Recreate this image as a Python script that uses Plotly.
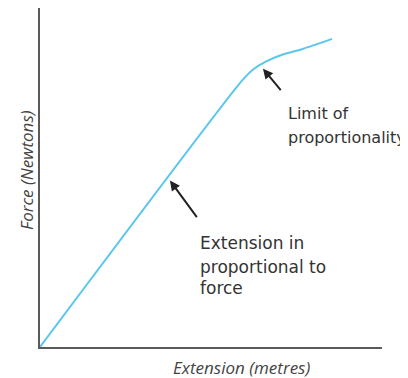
import plotly.graph_objects as go

# Curve data (arbitrary units)
extension = [0.0, 5.9, 6.25, 6.6, 7.1, 7.7, 8.54]
force = [0.0, 7.85, 8.2, 8.42, 8.63, 8.8, 9.09]

x_title = "Extension (metres)"
y_title = "Force (Newtons)"
label1_lines = ["Extension in", "proportional to", "force"]
label2_lines = ["Limit of", "proportionality"]

TEXT = "#333333"
FONT = "DejaVu Sans"

fig = go.Figure()
fig.add_trace(go.Scatter(
    x=extension, y=force, mode="lines",
    line=dict(color="#5cc6ee", width=2, shape="spline", smoothing=0.6),
    hoverinfo="skip", showlegend=False,
))

ann = []
# arrows
ann.append(dict(x=3.80, y=4.91, xref="x", yref="y", ax=28, ay=38,
                showarrow=True, arrowhead=2, arrowsize=1, arrowwidth=2,
                arrowcolor="#222222", text=""))
ann.append(dict(x=6.52, y=8.21, xref="x", yref="y", ax=19, ay=23,
                showarrow=True, arrowhead=2, arrowsize=1, arrowwidth=2,
                arrowcolor="#222222", text=""))
# text labels
for txt, yy in zip(label1_lines, [3.06, 2.35, 1.74]):
    ann.append(dict(x=4.62, y=yy, xref="x", yref="y", text=txt, showarrow=False,
                    xanchor="left", yanchor="middle",
                    font=dict(family=FONT, size=17, color=TEXT)))
for txt, yy in zip(label2_lines, [6.88, 6.18]):
    ann.append(dict(x=7.2, y=yy, xref="x", yref="y", text=txt, showarrow=False,
                    xanchor="left", yanchor="middle",
                    font=dict(family=FONT, size=16, color=TEXT)))

# Page is offset by the body's 8px margin; figure fills the rest of the window
OFF = 8
W, H = 408 - OFF, 378 - OFF
L, R, T, B = 40 - OFF, 26, 0, 31

# axis titles (positions given in page pixels)
ann.append(dict(x=241, y=367, xref="paper", yref="paper", text="<i>" + x_title + "</i>",
                xanchor="center", yanchor="middle",
                showarrow=False, font=dict(family="Open Sans", size=17, color="#444444")))
ann.append(dict(x=26, y=170, xref="paper", yref="paper", text="<i>" + y_title + "</i>",
                xanchor="center", yanchor="middle",
                showarrow=False, textangle=-90,
                font=dict(family="Open Sans", size=17, color="#444444")))

pw, ph = W - L - R, H - T - B
for a in ann[-2:]:
    px, py = a["x"] - OFF, a["y"] - OFF
    a["x"] = (px - L) / pw
    a["y"] = (H - B - py) / ph

fig.update_layout(
    width=W, height=H,
    margin=dict(l=L, r=R, t=T, b=B, pad=0, autoexpand=False),
    paper_bgcolor="white", plot_bgcolor="white",
    annotations=ann,
    xaxis=dict(range=[0, 10], showgrid=False, zeroline=False, showticklabels=False,
               ticks="", showline=True, linecolor="#5a5a5a", linewidth=2, fixedrange=True),
    yaxis=dict(range=[0, 10], showgrid=False, zeroline=False, showticklabels=False,
               ticks="", showline=True, linecolor="#5a5a5a", linewidth=2, fixedrange=True),
)

fig.write_html("out.html", config={"displayModeBar": False})
